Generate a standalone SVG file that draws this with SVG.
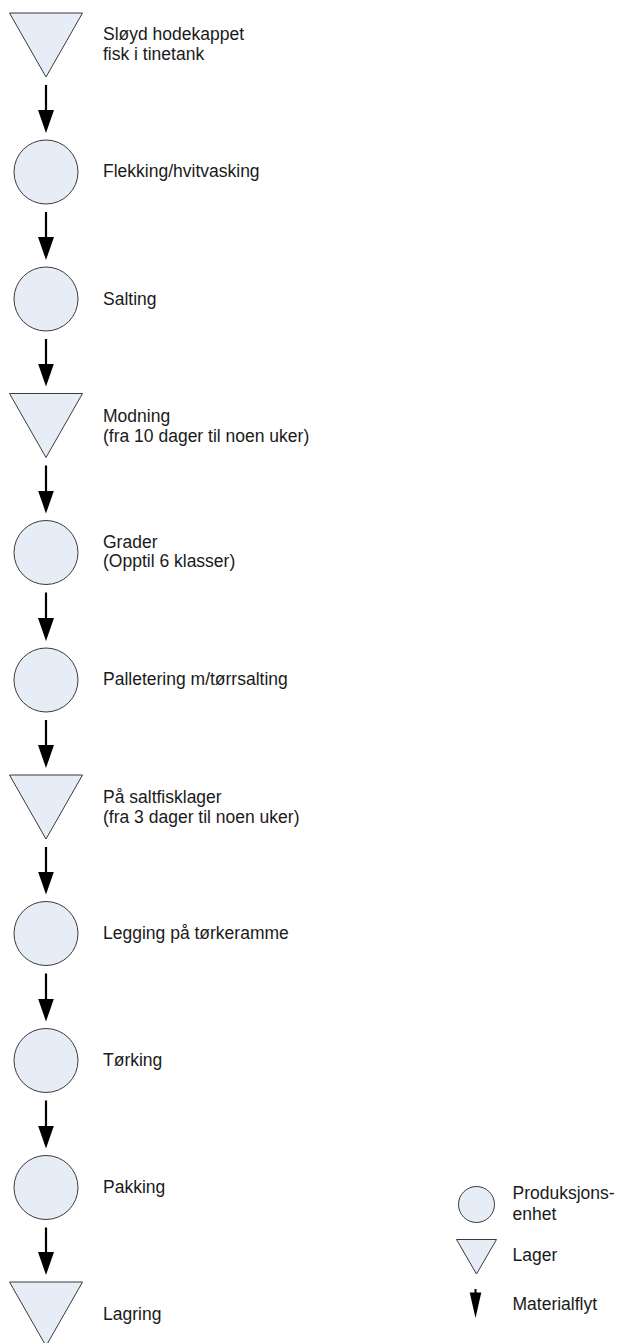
<svg xmlns="http://www.w3.org/2000/svg" width="621" height="1343" viewBox="0 0 621 1343">
<style>
.n{fill:#e7edf7;stroke:#3a3a3a;stroke-width:1}
.t{font-family:"Liberation Sans",Arial,sans-serif;font-size:17.5px;fill:#1a1a1a}
.c{stroke:#000;stroke-width:2.2;fill:none;marker-end:url(#ah)}
</style>
<defs>
<marker id="ah" viewBox="0 0 23 16" refX="13" refY="8" markerWidth="23" markerHeight="16" markerUnits="userSpaceOnUse" orient="auto">
<path d="M0,0 L23,8 L0,16 z" fill="#000"/>
</marker>
</defs>
<rect width="621" height="1343" fill="#fff"/>
<g id="connectors">
<line class="c" x1="46" y1="85" x2="46" y2="123"/>
<line class="c" x1="46" y1="212" x2="46" y2="250"/>
<line class="c" x1="46" y1="339" x2="46" y2="376.5"/>
<line class="c" x1="46" y1="465.5" x2="46" y2="503.5"/>
<line class="c" x1="46" y1="592.5" x2="46" y2="631"/>
<line class="c" x1="46" y1="720" x2="46" y2="758"/>
<line class="c" x1="46" y1="847" x2="46" y2="884.5"/>
<line class="c" x1="46" y1="973.5" x2="46" y2="1011.5"/>
<line class="c" x1="46" y1="1100.5" x2="46" y2="1138.5"/>
<line class="c" x1="46" y1="1227.5" x2="46" y2="1265"/>
</g>
<g id="n1"><polygon class="n" points="9.5,13 82.5,13 46,77"/>
<text class="t" x="103" y="40">Sløyd hodekappet</text><text class="t" x="103" y="60">fisk i tinetank</text></g>
<g id="n2"><circle class="n" cx="46" cy="172" r="32"/><text class="t" x="103" y="177">Flekking/hvitvasking</text></g>
<g id="n3"><circle class="n" cx="46" cy="299" r="32"/><text class="t" x="103" y="305">Salting</text></g>
<g id="n4"><polygon class="n" points="9.5,393.5 82.5,393.5 46,457.5"/>
<text class="t" x="103" y="421.5">Modning</text><text class="t" x="103" y="441.5">(fra 10 dager til noen uker)</text></g>
<g id="n5"><circle class="n" cx="46" cy="552.5" r="32"/>
<text class="t" x="103" y="547.5">Grader</text><text class="t" x="103" y="567">(Opptil 6 klasser)</text></g>
<g id="n6"><circle class="n" cx="46" cy="680" r="32"/><text class="t" x="103" y="685">Palletering m/tørrsalting</text></g>
<g id="n7"><polygon class="n" points="9.5,775 82.5,775 46,839"/>
<text class="t" x="103" y="802.5">På saltfisklager</text><text class="t" x="103" y="822.5">(fra 3 dager til noen uker)</text></g>
<g id="n8"><circle class="n" cx="46" cy="933.5" r="32"/><text class="t" x="103" y="938.5">Legging på tørkeramme</text></g>
<g id="n9"><circle class="n" cx="46" cy="1060.5" r="32"/><text class="t" x="103" y="1065.5">Tørking</text></g>
<g id="n10"><circle class="n" cx="46" cy="1187.5" r="32"/><text class="t" x="103" y="1192.5">Pakking</text></g>
<g id="n11"><polygon class="n" points="9.5,1282 82.5,1282 46,1346"/><text class="t" x="103" y="1320">Lagring</text></g>
<g id="legend">
<circle class="n" cx="476.5" cy="1204.5" r="18"/>
<text class="t" x="512.5" y="1198.5">Produksjons-</text><text class="t" x="512.5" y="1219.5">enhet</text>
<polygon class="n" points="456.5,1239.5 496.5,1239.5 476.5,1274"/>
<text class="t" x="512.5" y="1261">Lager</text>
<line x1="475.5" y1="1289" x2="475.5" y2="1294" stroke="#000" stroke-width="2"/>
<polygon points="469.7,1292.5 481.3,1292.5 475.5,1318" fill="#000"/>
<text class="t" x="512.5" y="1309.5">Materialflyt</text>
</g>
</svg>
